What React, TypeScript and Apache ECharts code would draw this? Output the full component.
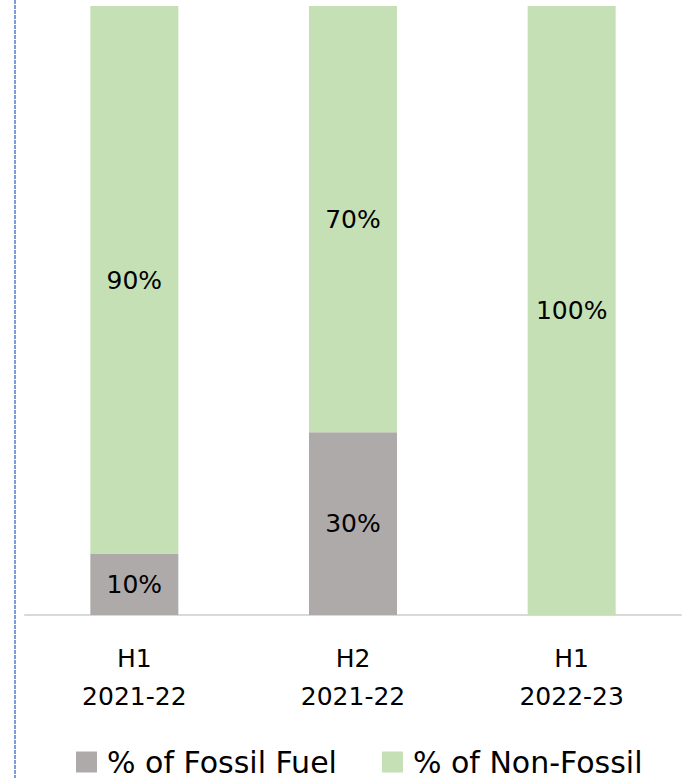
import React, { useEffect, useRef } from "react";
import * as echarts from "echarts";

const categories = ["H1\n2021-22", "H2\n2021-22", "H1\n2022-23"];
const fossilValues = [10, 30, 0];
const nonFossilValues = [90, 70, 100];
const seriesNames = ["% of Fossil Fuel", "% of Non-Fossil"];

export default function App() {
  const ref = useRef<HTMLDivElement>(null);
  useEffect(() => {
    if (!ref.current) return;
    const chart = echarts.init(ref.current, undefined, { renderer: "svg" });
    const font = "DejaVu Sans";
    chart.setOption({
      animation: false,
      backgroundColor: "#ffffff",
      textStyle: { fontFamily: font },
      grid: { left: 25, right: 3, top: 6, bottom: 163, containLabel: false },
      legend: {
        top: 747,
        left: 76,
        padding: 0,
        itemWidth: 21,
        itemHeight: 21,
        itemGap: 45,
        icon: "rect",
        textStyle: {
          fontFamily: font,
          fontSize: 30,
          lineHeight: 30,
          color: "#000",
          padding: [0, 0, 0, 5],
        },
        data: seriesNames,
      },
      xAxis: {
        type: "category",
        data: categories,
        axisLine: { show: true, lineStyle: { color: "#d9d9d9", width: 2 } },
        axisTick: { show: false },
        axisLabel: {
          fontFamily: font,
          fontSize: 25,
          color: "#000",
          margin: 24,
          lineHeight: 38,
        },
      },
      yAxis: {
        type: "value",
        min: 0,
        max: 100,
        show: false,
        splitLine: { show: false },
      },
      series: [
        {
          name: seriesNames[0],
          type: "bar",
          stack: "total",
          barWidth: 88,
          data: fossilValues,
          itemStyle: { color: "#aeaaaa" },
          label: {
            show: true,
            position: "inside",
            formatter: (p: any) => (p.value > 0 ? p.value + "%" : ""),
            fontFamily: font,
            fontSize: 25,
            color: "#000",
          },
        },
        {
          name: seriesNames[1],
          type: "bar",
          stack: "total",
          barWidth: 88,
          data: nonFossilValues,
          itemStyle: { color: "#c5e0b4" },
          label: {
            show: true,
            position: "inside",
            formatter: (p: any) => p.value + "%",
            fontFamily: font,
            fontSize: 25,
            color: "#000",
          },
        },
      ],
      graphic: [
        {
          type: "line",
          shape: { x1: 15, y1: 0, x2: 15, y2: 778 },
          style: { stroke: "#7d9dda", lineWidth: 2, lineDash: [4, 1] },
        },
      ],
    });
    return () => chart.dispose();
  }, []);
  return (
    <div
      ref={ref}
      style={{ position: "absolute", left: 0, top: 0, width: 684, height: 778 }}
    />
  );
}
